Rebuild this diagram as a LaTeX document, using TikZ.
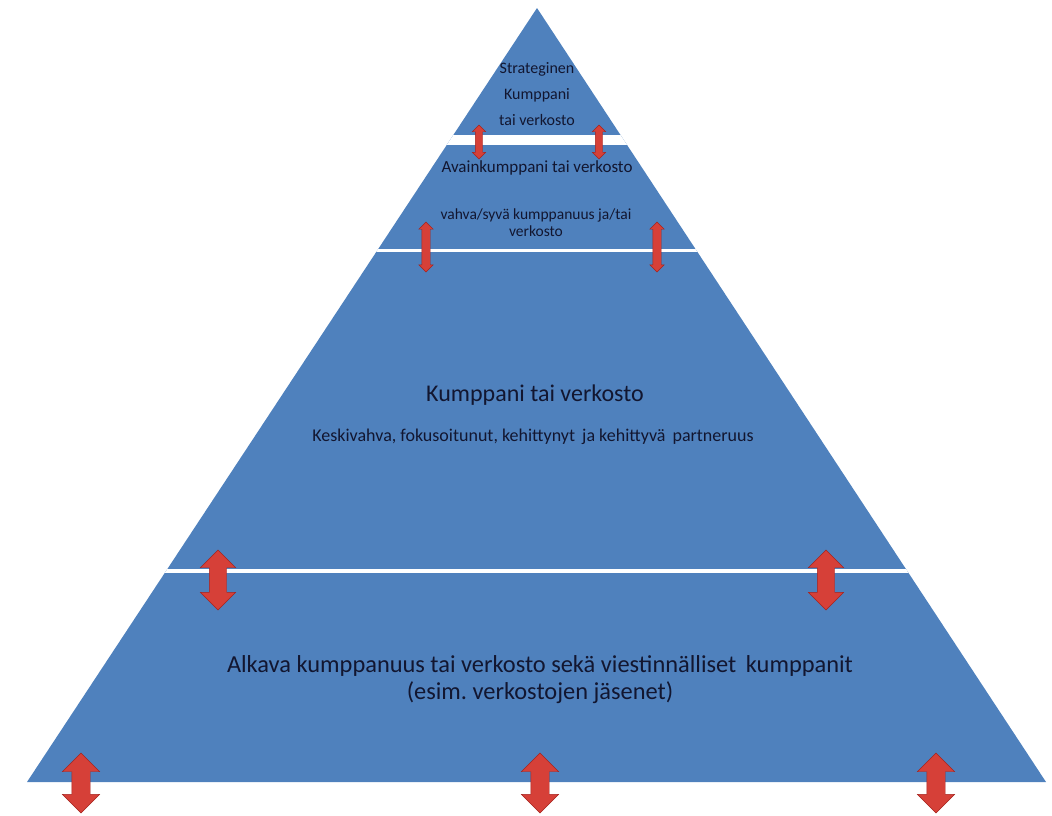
\documentclass[tikz,border=0pt]{standalone}
\usepackage{fontspec}
\setmainfont{Carlito}
\usetikzlibrary{shapes.arrows}
\definecolor{pyrblue}{RGB}{79,129,189}
\definecolor{arrowred}{RGB}{214,64,56}
\definecolor{arrowdark}{RGB}{165,35,30}
\definecolor{labeltext}{RGB}{18,22,48}
\tikzset{
  updown/.style n args={3}{double arrow, rotate=90, draw=arrowdark, fill=arrowred,
    inner xsep=0pt, inner ysep=#2/2, minimum height=#1,
    double arrow head extend=#3, double arrow head indent=0pt},
  label/.style={text=labeltext, align=center, inner sep=0pt}
}

\begin{document}
\begin{tikzpicture}[x=1pt,y=-1pt]
\useasboundingbox (0,0) rectangle (1052,815);

\fill [pyrblue] (537,8) -- (27,782) -- (1046,782) -- cycle;
\begin{scope}
\clip (537,8) -- (27,782) -- (1046,782) -- cycle;
\fill [white] (0,135) rectangle (1052,145);
\fill [white] (0,248.5) rectangle (1052,251.5);
\fill [white] (0,569) rectangle (1052,572.5);
\end{scope}

\node [label, font=\fontsize{16}{26}\selectfont] (strat) at (537,94) {Strateginen\\Kumppani\\tai verkosto};
\node [label, font=\fontsize{17}{20}\selectfont] (avain) at (537,168) {Avainkumppani tai verkosto};
\node [label, font=\fontsize{15.5}{17}\selectfont] (vahva) at (536,223) {vahva/syvä kumppanuus ja/tai\\verkosto};
\node [label, font=\fontsize{24}{28}\selectfont] (kump) at (535,395) {Kumppani tai verkosto};
\node [label, font=\fontsize{18}{21}\selectfont] (keski) at (533,437) {Keskivahva, fokusoitunut, kehittynyt\, ja kehittyvä\, partneruus};
\node [label, font=\fontsize{24.4}{27}\selectfont] (alkava) at (540,680) {Alkava kumppanuus tai verkosto sekä viestinnälliset\, kumppanit\\(esim.\ verkostojen jäsenet)};

\node [updown={34pt}{7pt}{3pt}] (a1) at (479,142) {};
\node [updown={34pt}{7pt}{3pt}] (a2) at (599,142) {};
\node [updown={50pt}{8pt}{3pt}] (b1) at (426,247) {};
\node [updown={50pt}{8pt}{3pt}] (b2) at (657,247) {};
\node [updown={60pt}{17pt}{9pt}] (c1) at (218,580) {};
\node [updown={60pt}{17pt}{9pt}] (c2) at (826,580) {};
\node [updown={60pt}{18pt}{9.5pt}] (d1) at (81,783) {};
\node [updown={60pt}{18pt}{9.5pt}] (d2) at (540,783) {};
\node [updown={60pt}{18pt}{9.5pt}] (d3) at (936,783) {};
\end{tikzpicture}
\end{document}
